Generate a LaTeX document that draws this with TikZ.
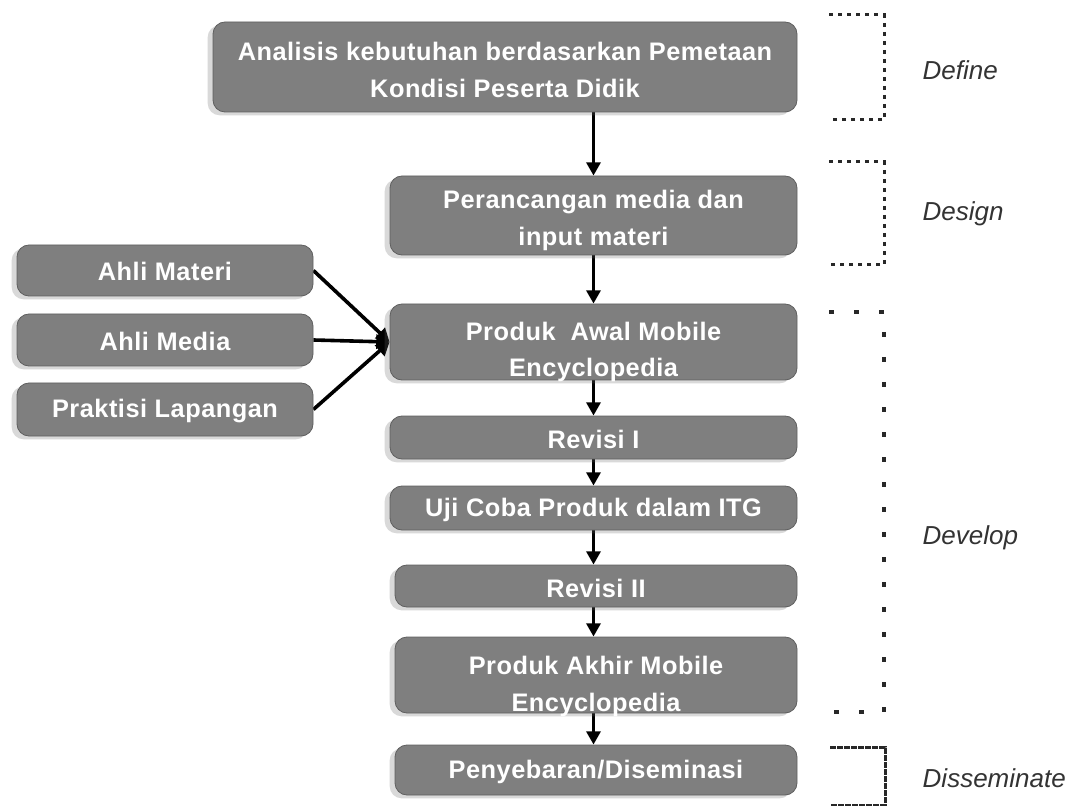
\documentclass[tikz,border=0pt]{standalone}
\usepackage{fontspec}
\setmainfont{Liberation Sans}
\newfontfamily\stagefont[LetterSpace=2]{Liberation Sans}
\usetikzlibrary{arrows.meta,shadows,backgrounds}

\definecolor{stagefill}{RGB}{127,127,127}
\definecolor{stageline}{RGB}{95,95,95}
\definecolor{phasetext}{RGB}{51,51,51}
\definecolor{bracket}{RGB}{40,40,40}

\tikzset{
  stage/.style={draw=stageline, line width=0.6pt, fill=stagefill, rounded corners=9pt,
    inner sep=0pt,
    drop shadow={shadow xshift=-4pt, shadow yshift=-2.5pt, opacity=0.25, fill=black!60}},
  stagetext/.style={text=white, align=center, inner sep=0pt,
    font=\stagefont\fontsize{19}{27.5}\selectfont\bfseries},
  flow/.style={line width=2.7pt, -{Triangle[length=10pt,width=10.5pt]}},
  phase/.style={anchor=west, text=phasetext, font=\fontsize{19.5}{22}\selectfont\itshape},
}

\begin{document}
\begin{tikzpicture}[x=0.75pt,y=0.75pt,yscale=-1,xscale=1]
\useasboundingbox (0,0) rectangle (1076,806);

% Stage boxes
\draw (505,67) node [stage, minimum width=438pt, minimum height=67.5pt,
  label={[stagetext, yshift=-2pt]center:Analisis kebutuhan berdasarkan Pemetaan\\Kondisi Peserta Didik}] (analisis) {};
\draw (593.5,215.5) node [stage, minimum width=305.25pt, minimum height=59.25pt,
  label={[stagetext, yshift=-3.5pt]center:Perancangan media dan\\input materi}] (rancang) {};
\draw (593.5,342) node [stage, minimum width=305.25pt, minimum height=57pt,
  label={[stagetext, yshift=-7.5pt]center:Produk \ Awal Mobile\\Encyclopedia}] (awal) {};
\draw (593.5,437.5) node [stage, minimum width=305.25pt, minimum height=32.25pt,
  label={[stagetext, yshift=-1.5pt]center:Revisi I}] (revisisatu) {};
\draw (593.5,508) node [stage, minimum width=305.25pt, minimum height=33pt,
  label={[stagetext, yshift=-1.5pt]center:Uji Coba Produk dalam ITG}] (ujicoba) {};
\draw (596,586) node [stage, minimum width=301.5pt, minimum height=31.5pt,
  label={[stagetext, yshift=-1.5pt]center:Revisi II}] (revisidua) {};
\draw (596,675) node [stage, minimum width=301.5pt, minimum height=57pt,
  label={[stagetext, yshift=-8.5pt]center:Produk Akhir Mobile\\Encyclopedia}] (akhir) {};
\draw (596,770) node [stage, minimum width=301.5pt, minimum height=37.5pt,
  label={[stagetext, yshift=-1.5pt]center:Penyebaran/Diseminasi}] (sebar) {};

% Validator boxes
\draw (165,270.5) node [stage, minimum width=222pt, minimum height=38.25pt,
  label={[stagetext, yshift=-1pt]center:Ahli Materi}] (materi) {};
\draw (165,340) node [stage, minimum width=222pt, minimum height=39pt,
  label={[stagetext, yshift=-1pt]center:Ahli Media}] (media) {};
\draw (165,409.5) node [stage, minimum width=222pt, minimum height=39.75pt,
  label={[stagetext, yshift=-1pt]center:Praktisi Lapangan}] (praktisi) {};

% Arrows (behind the box texts)
\begin{scope}[on background layer]
\draw [flow] (analisis.south -| rancang.north) -- (rancang.north);
\draw [flow] (rancang.south) -- (awal.north);
\draw [flow] (awal.south) -- (revisisatu.north);
\draw [flow] (revisisatu.south) -- (ujicoba.north);
\draw [flow] (ujicoba.south) -- (ujicoba.south |- revisidua.north);
\draw [flow] (ujicoba.south |- revisidua.south) -- (ujicoba.south |- akhir.north);
\draw [flow] (ujicoba.south |- akhir.south) -- (ujicoba.south |- sebar.north);
\draw [flow] (materi.east) -- (awal.west);
\draw [flow] (media.east) -- (awal.west);
\draw [flow] (praktisi.east) -- (awal.west);
\end{scope}

% Phase brackets
\draw [bracket, line width=2.25pt, dash pattern=on 3pt off 3.75pt] (829,15) -- (884,15) -- (884,120) -- (829,120);
\draw [bracket, line width=2.25pt, dash pattern=on 3pt off 3.75pt] (829,162) -- (884,162) -- (884,265) -- (829,265);
\draw [bracket, line width=2.6pt, dash pattern=on 3.5pt off 15.25pt] (829,312) -- (884,312) -- (884,712) -- (829,712);
\draw [bracket, line width=2.25pt, dash pattern=on 4.5pt off 0.75pt] (830,747) -- (885,747) -- (885,805) -- (830,805);

% Text Node
\draw (918,70) node [phase] (define) {Define};
\draw (918,214) node [phase] (design) {Design};
\draw (918,538) node [phase] (develop) {Develop};
\draw (918,778) node [phase] (disseminate) {Disseminate};

\end{tikzpicture}
\end{document}
